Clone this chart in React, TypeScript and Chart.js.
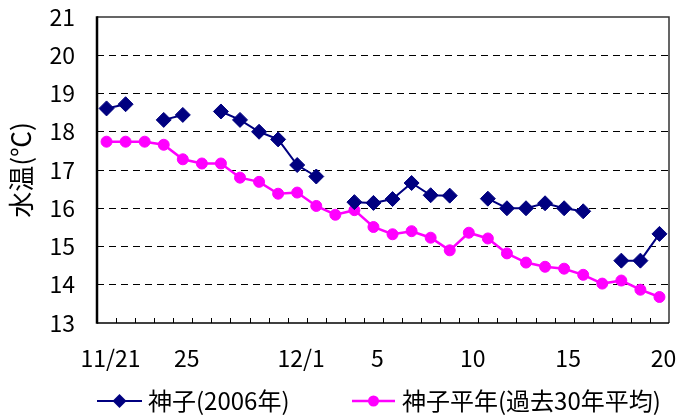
import React, { useEffect, useRef } from 'react';
import { Chart, registerables } from 'chart.js';

Chart.register(...registerables);

// 30 days: 11/21 .. 12/20
const dates = [
  '11/21', '11/22', '11/23', '11/24', '11/25', '11/26', '11/27', '11/28', '11/29', '11/30',
  '12/1', '12/2', '12/3', '12/4', '12/5', '12/6', '12/7', '12/8', '12/9', '12/10',
  '12/11', '12/12', '12/13', '12/14', '12/15', '12/16', '12/17', '12/18', '12/19', '12/20',
];
const tickIndex = [0, 4, 10, 14, 19, 24, 29];
const tickText = ['11/21', '25', '12/1', '5', '10', '15', '20'];

const kamiko2006: (number | null)[] = [
  18.61, 18.72, null, 18.31, 18.44, null, 18.53, 18.31, 18.0, 17.8,
  17.13, 16.83, null, 16.16, 16.14, 16.24, 16.66, 16.34, 16.33, null,
  16.25, 16.0, 16.0, 16.13, 16.0, 15.92, null, 14.63, 14.63, 15.33,
];
const kamikoNormal: number[] = [
  17.74, 17.74, 17.74, 17.66, 17.28, 17.17, 17.17, 16.8, 16.69, 16.38,
  16.41, 16.06, 15.83, 15.95, 15.51, 15.32, 15.4, 15.23, 14.9, 15.36,
  15.21, 14.82, 14.58, 14.47, 14.42, 14.26, 14.03, 14.11, 13.87, 13.68,
];
const seriesNames = ['神子(2006年)', '神子平年(過去30年平均)'];
const yMin = 13;
const yMax = 21;
const yTitle = '水温(℃)';

const FONT = '"Noto Sans CJK JP", "Noto Sans", sans-serif';
const NAVY = '#000080';
const MAGENTA = '#FF00FF';

const framePlugin = {
  id: 'frame',
  beforeDatasetsDraw(chart: any) {
    const { ctx, chartArea: a, scales } = chart;
    const x = scales.x;
    ctx.save();
    ctx.strokeStyle = '#333';
    ctx.lineWidth = 1.5;
    ctx.beginPath();
    ctx.moveTo(a.left, a.top);
    ctx.lineTo(a.right, a.top);
    ctx.lineTo(a.right, a.bottom);
    ctx.stroke();
    ctx.strokeStyle = '#000';
    ctx.lineWidth = 1.5;
    ctx.beginPath();
    ctx.moveTo(a.left, a.bottom);
    ctx.lineTo(a.right, a.bottom);
    ctx.stroke();
    ctx.lineWidth = 1;
    const n = chart.data.labels.length;
    const step = (a.right - a.left) / n;
    ctx.beginPath();
    for (let i = 1; i < n; i++) {
      const px = Math.round(x.getPixelForValue(i) - step / 2) + 0.5;
      ctx.moveTo(px, a.bottom);
      ctx.lineTo(px, a.bottom - 5);
    }
    ctx.stroke();
    ctx.lineWidth = 2.5;
    ctx.beginPath();
    ctx.moveTo(a.left, a.top - 0.75);
    ctx.lineTo(a.left, a.bottom + 0.75);
    ctx.stroke();
    ctx.restore();
  },
};

const legendPlugin = {
  id: 'customLegend',
  afterDraw(chart: any) {
    const { ctx } = chart;
    const items = [
      { x0: 97, x1: 142, tx: 148 },
      { x0: 352, x1: 395, tx: 402 },
    ];
    const y = 401;
    ctx.save();
    chart.data.datasets.forEach((ds: any, i: number) => {
      const it = items[i];
      ctx.strokeStyle = ds.borderColor;
      ctx.lineWidth = ds.borderWidth;
      ctx.beginPath();
      ctx.moveTo(it.x0, y);
      ctx.lineTo(it.x1, y);
      ctx.stroke();
      const cx = (it.x0 + it.x1) / 2;
      ctx.fillStyle = ds.pointBackgroundColor;
      ctx.beginPath();
      if (ds.pointStyle === 'rectRot') {
        const r = 7;
        ctx.moveTo(cx, y - r);
        ctx.lineTo(cx + r, y);
        ctx.lineTo(cx, y + r);
        ctx.lineTo(cx - r, y);
        ctx.closePath();
      } else {
        ctx.arc(cx, y, 5.5, 0, Math.PI * 2);
      }
      ctx.fill();
      ctx.fillStyle = '#000';
      ctx.font = `24px ${FONT}`;
      ctx.textBaseline = 'middle';
      ctx.textAlign = 'left';
      ctx.fillText(ds.label, it.tx, y);
    });
    ctx.restore();
  },
};

export default function App() {
  const ref = useRef<HTMLCanvasElement | null>(null);

  useEffect(() => {
    const canvas = ref.current;
    if (!canvas) return;
    const chart = new Chart(canvas, {
      type: 'line',
      data: {
        labels: dates,
        datasets: [
          {
            label: seriesNames[0],
            data: kamiko2006,
            borderColor: NAVY,
            backgroundColor: NAVY,
            pointBackgroundColor: NAVY,
            pointBorderColor: NAVY,
            borderWidth: 2,
            pointStyle: 'rectRot',
            pointRadius: 7.5,
            pointBorderWidth: 1,
            spanGaps: false,
            tension: 0,
          },
          {
            label: seriesNames[1],
            data: kamikoNormal,
            borderColor: MAGENTA,
            backgroundColor: MAGENTA,
            pointBackgroundColor: MAGENTA,
            pointBorderColor: MAGENTA,
            borderWidth: 2.5,
            pointStyle: 'circle',
            pointRadius: 5.5,
            pointBorderWidth: 1,
            tension: 0,
          },
        ],
      },
      options: {
        responsive: false,
        animation: false,
        layout: { padding: { top: 17, right: 10, left: 0, bottom: 0 } },
        plugins: {
          legend: { display: false },
          tooltip: { enabled: false },
        },
        scales: {
          x: {
            type: 'category',
            offset: true,
            grid: { display: false },
            border: { display: false },
            ticks: {
              autoSkip: false,
              maxRotation: 0,
              minRotation: 0,
              padding: 13,
              labelOffset: 4,
              color: '#000',
              font: { family: FONT, size: 23 },
              callback: (_v: any, idx: number) => {
                const k = tickIndex.indexOf(idx);
                return k >= 0 ? tickText[k] : '';
              },
            },
            afterFit: (s: any) => {
              s.height = 94;
              s.paddingLeft = 0;
              s.paddingRight = 0;
            },
          },
          y: {
            min: yMin,
            max: yMax,
            grid: {
              drawTicks: false,
              color: (c: any) =>
                c.tick && (c.tick.value === yMin || c.tick.value === yMax) ? 'rgba(0,0,0,0)' : '#000',
              lineWidth: 1,
            },
            border: { display: false, dash: [7, 5] },
            ticks: {
              stepSize: 1,
              padding: 22,
              color: '#000',
              font: { family: FONT, size: 23 },
            },
            title: {
              display: true,
              text: yTitle,
              color: '#000',
              font: { family: FONT, size: 26 },
              padding: { top: 6, bottom: 0 },
            },
            afterFit: (s: any) => {
              s.width = 97;
              s.paddingTop = 0;
              s.paddingBottom = 0;
            },
          },
        },
      },
      plugins: [framePlugin, legendPlugin],
    });
    return () => chart.destroy();
  }, []);

  return (
    <div style={{ position: 'fixed', left: 0, top: 0, width: 679, height: 417, background: '#fff' }}>
      <canvas ref={ref} width={679} height={417} style={{ width: 679, height: 417, display: 'block' }} />
    </div>
  );
}
